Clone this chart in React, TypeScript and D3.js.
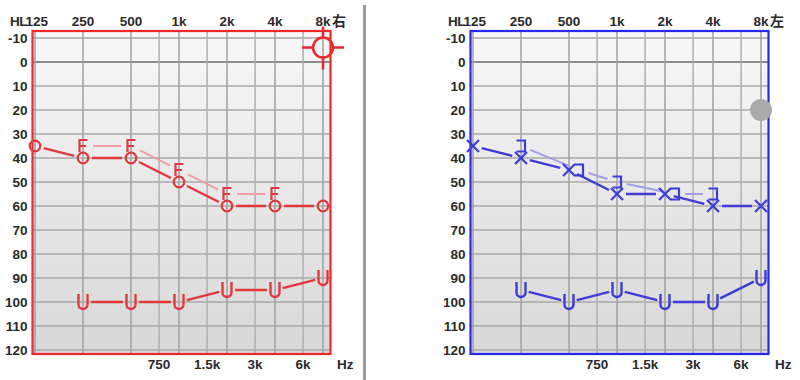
import React from 'react';
import * as d3 from 'd3';

const FREQS = [125, 250, 500, 1000, 2000, 4000, 8000];
const GRID_FREQS = [125, 250, 500, 750, 1000, 1500, 2000, 3000, 4000, 6000, 8000];
const DB_TICKS = [-10, 0, 10, 20, 30, 40, 50, 60, 70, 80, 90, 100, 110, 120];
const TOP_TICK_FREQS = [250, 500, 1000, 2000, 4000, 8000];
const TOP_TICK_LABELS = ['250', '500', '1k', '2k', '4k', '8k'];
const BOTTOM_TICK_FREQS = [750, 1500, 3000, 6000];
const BOTTOM_TICK_LABELS = ['750', '1.5k', '3k', '6k'];

// Right ear (red)
const RIGHT_AC = [35, 40, 40, 50, 60, 60, 60];
const RIGHT_BC_FREQS = [250, 500, 1000, 2000, 4000];
const RIGHT_BC = [35, 35, 45, 55, 55];
const RIGHT_U_FREQS = [250, 500, 1000, 2000, 4000, 8000];
const RIGHT_U = [100, 100, 100, 95, 95, 90];

// Left ear (blue)
const LEFT_AC = [35, 40, 45, 55, 55, 60, 60];
const LEFT_BC_FREQS = [250, 500, 1000, 2000, 4000];
const LEFT_BC = [35, 45, 50, 55, 55];
const LEFT_U_FREQS = [250, 500, 1000, 2000, 4000, 8000];
const LEFT_U = [95, 100, 95, 100, 100, 90];

const FONT = '"Liberation Sans", Arial, sans-serif';
const CJK = '"Noto Sans CJK JP", "Noto Sans CJK SC", sans-serif';

type Pt = [number, number];

function gappedSegments(pts: Pt[], gap: number): string {
  let d = '';
  for (let i = 0; i < pts.length - 1; i++) {
    const [x1, y1] = pts[i];
    const [x2, y2] = pts[i + 1];
    const dx = x2 - x1, dy = y2 - y1;
    const len = Math.hypot(dx, dy);
    if (len <= gap * 2) continue;
    const ux = dx / len, uy = dy / len;
    d += `M${x1 + ux * gap},${y1 + uy * gap}L${x2 - ux * gap},${y2 - uy * gap}`;
  }
  return d;
}

interface Props {
  ox: number;
  ear: 'R' | 'L';
  color: string;
  frameColor: string;
  lightColor: string;
  ac: number[];
  bcFreqs: number[];
  bc: number[];
  uFreqs: number[];
  u: number[];
  sideLabel: string;
}

function Audiogram(p: Props) {
  const x = d3.scaleLog().base(2).domain([125, 8000]).range([35 + p.ox, 323 + p.ox]);
  const y = d3.scaleLinear().domain([-10, 120]).range([38, 350]);
  const fl = x(125) - 2.5, fr = x(8000) + 7.5, ft = 31, fb = 354;
  const gid = 'bg' + p.ear;

  const acPts: Pt[] = FREQS.map((f, i) => [x(f), y(p.ac[i])]);
  const bcPts: Pt[] = p.bcFreqs.map((f, i) => {
    const ai = FREQS.indexOf(f);
    const same = ai >= 0 && p.ac[ai] === p.bc[i];
    const shift = same ? (p.ear === 'L' ? 10 : -10) : 0;
    return [x(f) + shift, y(p.bc[i])];
  });
  const uPts: Pt[] = p.uFreqs.map((f, i) => [x(f), y(p.u[i])]);

  const bracket = p.ear === 'R'
    ? 'M4.5,-6H-3.5V6M-3.5,0H3'
    : 'M-4.5,-5.5H4V5.5H-4.5';

  return (
    <g>
      <defs>
        <linearGradient id={gid} x1="0" y1="0" x2="0" y2="1">
          <stop offset="0" stopColor="#f8f8f8" />
          <stop offset="1" stopColor="#d8d8d8" />
        </linearGradient>
      </defs>
      <rect x={fl} y={ft} width={fr - fl} height={fb - ft} fill={`url(#${gid})`} />
      {DB_TICKS.map((d) => (
        <line key={'h' + d} x1={fl} x2={fr} y1={y(d)} y2={y(d)}
          stroke={d === 0 ? '#8a8a8a' : '#a8a8a8'} strokeWidth={d === 0 ? 2.2 : 1.5} />
      ))}
      {GRID_FREQS.map((f) => (
        <line key={'v' + f} x1={x(f)} x2={x(f)} y1={ft} y2={fb}
          stroke={FREQS.includes(f) ? '#a0a0a0' : '#b0b0b0'} strokeWidth={1.5} />
      ))}
      <rect x={fl} y={ft} width={fr - fl} height={fb - ft} fill="none" stroke={p.frameColor} strokeWidth={2.2} />

      {/* labels */}
      {DB_TICKS.map((d) => (
        <text key={'yl' + d} x={fl - 5} y={y(d) + 5} textAnchor="end" fontSize={13.5} fontWeight="bold"
          fontFamily={FONT} fill="#2a2a2a">{d}</text>
      ))}
      <text x={x(125) - 25} y={26} fontSize={13.5} fontWeight="bold" fontFamily={FONT} fill="#2a2a2a" letterSpacing={-0.5}>HL</text>
      <text x={x(125) + 13} y={26} textAnchor="end" fontSize={13.5} fontWeight="bold" fontFamily={FONT} fill="#2a2a2a">125</text>
      {TOP_TICK_FREQS.map((f, i) => (
        <text key={'t' + f} x={x(f)} y={26} textAnchor="middle" fontSize={13.5} fontWeight="bold"
          fontFamily={FONT} fill="#2a2a2a">{TOP_TICK_LABELS[i]}</text>
      ))}
      <text x={x(8000) + 9} y={26} fontSize={14} fontWeight="bold" fontFamily={CJK} fill="#2a2a2a">{p.sideLabel}</text>
      {BOTTOM_TICK_FREQS.map((f, i) => (
        <text key={'b' + f} x={x(f)} y={369} textAnchor="middle" fontSize={13.5} fontWeight="bold"
          fontFamily={FONT} fill="#2a2a2a">{BOTTOM_TICK_LABELS[i]}</text>
      ))}
      <text x={x(8000) + 14} y={369} fontSize={13.5} fontWeight="bold" fontFamily={FONT} fill="#2a2a2a">Hz</text>

      {/* lines */}
      <path d={gappedSegments(bcPts, 10)} stroke={p.lightColor} strokeWidth={2} fill="none" />
      <path d={gappedSegments(acPts, 9)} stroke={p.color} strokeWidth={2.4} fill="none" />
      <path d={gappedSegments(uPts, 8)} stroke={p.color} strokeWidth={2.4} fill="none" />

      {/* symbols */}
      {bcPts.map((pt, i) => (
        <path key={'bc' + i} transform={`translate(${pt[0]},${pt[1]})`} d={bracket}
          stroke={p.color} strokeWidth={2.2} fill="none" />
      ))}
      {acPts.map((pt, i) => p.ear === 'R' ? (
        <circle key={'ac' + i} cx={pt[0]} cy={pt[1]} r={5.3} stroke={p.color} strokeWidth={2.2} fill="none" />
      ) : (
        <path key={'ac' + i} transform={`translate(${pt[0]},${pt[1]})`} d="M-6,-6L6,6M6,-6L-6,6"
          stroke={p.color} strokeWidth={2.2} fill="none" />
      ))}
      {uPts.map((pt, i) => (
        <path key={'u' + i} transform={`translate(${pt[0]},${pt[1]})`} d="M-4.5,-8V2.5A4.5,4.5 0 0 0 4.5,2.5V-8"
          stroke={p.color} strokeWidth={2.4} fill="none" />
      ))}
    </g>
  );
}

const RIGHT_CURSOR_FREQ = 8000;
const RIGHT_CURSOR_DB = -6;
const LEFT_HANDLE_FREQ = 8000;
const LEFT_HANDLE_DB = 20;

export default function App() {
  const xr = d3.scaleLog().base(2).domain([125, 8000]).range([35, 323]);
  const xl = d3.scaleLog().base(2).domain([125, 8000]).range([35 + 438, 323 + 438]);
  const y = d3.scaleLinear().domain([-10, 120]).range([38, 350]);
  const cx = xr(RIGHT_CURSOR_FREQ), cy = y(RIGHT_CURSOR_DB);
  return (
    <svg width={800} height={380} style={{ position: 'absolute', left: 0, top: 0, background: '#fff' }}>
      <rect x={0} y={0} width={800} height={380} fill="#fff" />
      <Audiogram ox={0} ear="R" color="#e2383c" frameColor="#f0282c" lightColor="#f0a0a0"
        ac={RIGHT_AC} bcFreqs={RIGHT_BC_FREQS} bc={RIGHT_BC} uFreqs={RIGHT_U_FREQS} u={RIGHT_U} sideLabel="右" />
      <Audiogram ox={438} ear="L" color="#3c3cd8" frameColor="#2828f0" lightColor="#a0a0e6"
        ac={LEFT_AC} bcFreqs={LEFT_BC_FREQS} bc={LEFT_BC} uFreqs={LEFT_U_FREQS} u={LEFT_U} sideLabel="左" />
      <line x1={364.5} x2={364.5} y1={5} y2={380} stroke="#9a9a9a" strokeWidth={3} />
      <g stroke="#e82a2e" strokeWidth={2.5} fill="none">
        <circle cx={cx} cy={cy} r={10} />
        <path d={`M${cx - 21},${cy}H${cx - 10}M${cx + 10},${cy}H${cx + 21}M${cx},${cy - 21}V${cy - 10}M${cx},${cy + 10}V${cy + 22}`} />
      </g>
      <circle cx={xl(LEFT_HANDLE_FREQ)} cy={y(LEFT_HANDLE_DB)} r={11} fill="#aaaaaa" />
    </svg>
  );
}
